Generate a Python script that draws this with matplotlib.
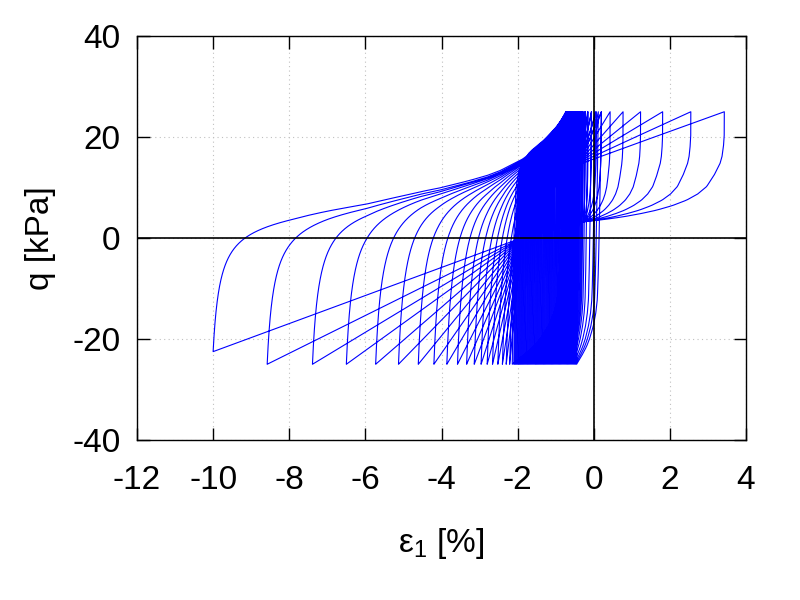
import numpy as np
import matplotlib.pyplot as plt

plt.rcParams['font.family'] = ['Liberation Sans', 'DejaVu Sans']
plt.rcParams['mathtext.fontset'] = 'custom'
plt.rcParams['mathtext.rm'] = 'Liberation Sans'
plt.rcParams['axes.unicode_minus'] = False

# strain at each compression peak (q = +25 kPa), loading order [%]
comp_peaks = [0.20, 0.12, 0.04, -0.06, -0.16, -0.22, -0.26, -0.29, -0.32, -0.35,
              -0.37, -0.39, -0.41, -0.43, -0.44, -0.45, -0.46, -0.47, -0.48, -0.49,
              -0.50, -0.51, -0.52, -0.53, -0.54, -0.55, -0.55, -0.56, -0.57, -0.58,
              -0.59, -0.60, -0.60, -0.61, -0.62, -0.63, -0.63, -0.64, -0.65, -0.65,
              -0.66, -0.66, -0.67, -0.67, -0.68, -0.68, -0.69, -0.69, -0.70, -0.70,
              -0.70, -0.71, -0.71, -0.71, -0.72, -0.72, -0.72,
              -0.73, -0.73, -0.70, -0.64, -0.56, -0.47, -0.38, -0.30, -0.23, -0.15,
              -0.06, 0.07, 0.20, 0.43, 0.77, 1.23, 1.81, 2.55, 3.43]
# strain at the extension peak (q = -25 kPa) reached after each of them [%]
ext_peaks = [-0.45, -0.48, -0.51, -0.54, -0.57, -0.60, -0.63, -0.66, -0.69, -0.72,
             -0.75, -0.78, -0.81, -0.84, -0.87, -0.90, -0.93, -0.96, -0.99, -1.02,
             -1.05, -1.08, -1.11, -1.14, -1.17, -1.20, -1.23, -1.26, -1.29, -1.32,
             -1.35, -1.38, -1.41, -1.44, -1.47, -1.50, -1.53, -1.56, -1.59, -1.62,
             -1.65, -1.68, -1.71, -1.74, -1.77, -1.80, -1.83, -1.86, -1.89, -1.92,
             -1.95, -1.98, -2.01, -2.04, -2.07, -2.10, -2.14,
             -2.21, -2.30, -2.40, -2.52, -2.66, -2.80, -2.96, -3.14, -3.34, -3.58,
             -3.86, -4.20, -4.61, -5.13, -5.73, -6.50, -7.39, -8.58, -10.0]
q_max = 25.0
q_min = -25.0
q_stop = -22.5   # last extension peak, stopped at the strain limit

# upper-left envelope the reloading branches run into
env_x = [-12.0, -11.0, -10.0, -9.0, -8.0, -7.0, -6.0, -5.2, -4.56, -4.1, -3.69, -3.25,
         -2.81, -2.45, -2.11, -1.87, -1.67, -1.45, -1.24, -1.10, -0.97, -0.85, -0.73]
env_q = [2.0, 2.7, 3.4, 4.3, 5.2, 6.3, 7.3, 8.5, 9.5, 10.1, 10.8, 11.6,
         12.5, 13.5, 14.8, 15.7, 16.8, 18.0, 19.4, 20.6, 22.0, 23.4, 25.0]

# unloading from a compression peak down to the pivot (fraction of the way)
unl_s = [0, 0.2, 0.3, 0.4, 0.468, 0.57, 0.679, 0.748, 0.803, 0.853, 0.894, 0.927, 0.954, 0.98, 1.0]
unl_f = [0, 0.0, 0.005, 0.015, 0.03, 0.07, 0.125, 0.19, 0.268, 0.37, 0.481, 0.6, 0.716, 0.86, 1.0]

# small stiff loops of the first cycles: unloading and reloading shapes
stiff_t = [0, 0.1, 0.25, 0.4, 0.5, 0.6, 0.7, 0.75, 0.8, 0.85, 0.9, 0.93, 0.96, 0.98, 1.0]
stiff_f = [0, 0.015, 0.04, 0.07, 0.094, 0.115, 0.145, 0.17, 0.23, 0.33, 0.48, 0.6, 0.76, 0.88, 1.0]
stiffb_t = [0, 0.25, 0.5, 0.7, 0.76, 0.8, 0.84, 0.89, 0.94, 0.97, 1.0]
stiffb_f = [0, 0.01, 0.03, 0.07, 0.12, 0.2, 0.32, 0.6, 0.82, 0.92, 1.0]

piv_a = (-0.27, 3.2)   # unloading branches meet here
piv_b = (-1.9, 0.0)    # extension lines start here
piv_c = -0.3           # reloading lines leave the dense band here
x_cut = -2.2           # loops smaller than this stay stiff
x_dep = -1.67          # big reloading branches leave the envelope here


def stiff(x0, x1, q0, q1, tt, ff, n=80):
    t = np.linspace(0, 1, n)
    f = np.interp(t, tt, ff)
    return x0 + (x1 - x0) * f, q0 + (q1 - q0) * t


def unload(xc, xe, q_end):
    xa = min(piv_a[0], xc - 0.03)
    s = np.linspace(0, 1, 80)
    x1 = xc + (xa - xc) * np.interp(s, unl_s, unl_f)
    q1 = q_max - (q_max - piv_a[1]) * s
    return np.r_[x1, piv_b[0], xe], np.r_[q1, piv_b[1], q_end]


def env_upto(xl):
    tx = [v for v in env_x if v < xl] + [xl]
    tq = [w for v, w in zip(env_x, env_q) if v < xl] + [np.interp(xl, env_x, env_q)]
    return tx, tq


def reload(xe, xc, q_start):
    if xc >= piv_c:
        tx, tq = env_upto(x_dep)
        tx += [piv_c, xc]
        tq += [16.5 - 0.4 * (xc - piv_c), q_max]
    else:
        tx, tq = env_upto(x_cut)
        k = (xc - x_cut) / (env_x[-1] - x_cut)
        tx += [x_cut + (v - x_cut) * k for v in env_x if v > x_cut]
        tq += [w for v, w in zip(env_x, env_q) if v > x_cut]
    tx = np.array(tx)
    tq = np.array(tq)
    u = np.linspace(0, 1, 600) ** 3
    x = xe + (tx[-1] - xe) * u
    d = x - xe
    dc = tx[-1] - xe
    deficit = np.interp(xe, tx, tq) - q_start
    q = np.interp(x, tx, tq) - deficit * (1 - d / dc) / (1 + d / 0.18)
    return x, q


xs, qs = [], []
x, q = stiff(0.0, comp_peaks[0], 0.0, q_max, stiff_t, stiff_f)
xs.append(x); qs.append(q)
n = len(ext_peaks)
for j in range(n):
    xc, xe = comp_peaks[j], ext_peaks[j]
    q_end = q_stop if j == n - 1 else q_min
    if xe > x_cut:
        x, q = stiff(xc, xe, q_max, q_end, stiff_t, stiff_f)
    else:
        x, q = unload(xc, xe, q_end)
    xs.append(x); qs.append(q)
    if j == n - 1:
        # final reloading runs up the envelope
        x, q = reload(xe, env_x[-1], q_end)
    elif xe > x_cut:
        x, q = stiff(xe, comp_peaks[j + 1], q_min, q_max, stiffb_t, stiffb_f)
    else:
        x, q = reload(xe, comp_peaks[j + 1], q_min)
    xs.append(x); qs.append(q)
strain = np.concatenate(xs)
dev = np.concatenate(qs)

fig = plt.figure(figsize=(8, 6), dpi=100)
ax = fig.add_axes([137 / 800, 160 / 600, 609 / 800, 404 / 600])
ax.plot(strain, dev, color='#0000ff', lw=0.8, zorder=2)
ax.axhline(0, color='black', lw=1.2, zorder=3)
ax.axvline(0, color='black', lw=1.2, zorder=3)

ax.set_xlim(-12, 4)
ax.set_ylim(-40, 40)
ax.set_xticks(range(-12, 5, 2))
ax.set_yticks(range(-40, 41, 20))
ax.grid(True, color='#c0c0c0', ls=(0, (1, 3)), lw=0.8)
ax.set_axisbelow(True)
ax.tick_params(direction='in', length=9, width=1, top=True, right=True, labelsize=24)
ax.tick_params(axis='x', pad=18)
ax.tick_params(axis='y', pad=12)
for sp in ax.spines.values():
    sp.set_linewidth(1)

ax.set_xlabel('ε$_{\\mathregular{1}}$ [%]', fontsize=24)
ax.xaxis.set_label_coords(0.5, -0.255)
ax.xaxis.label.set_va('center')
ax.set_ylabel('q [kPa]', fontsize=24)
ax.yaxis.set_label_coords(-0.159, 0.5)
ax.yaxis.label.set_va('center')

fig.savefig('out.png', dpi=100)
